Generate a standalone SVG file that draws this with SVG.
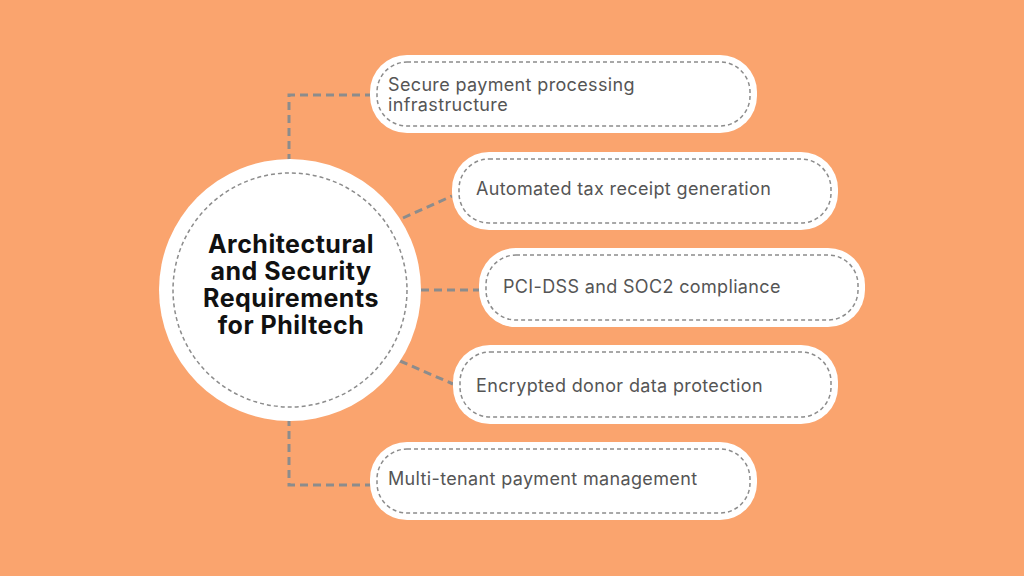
<svg xmlns="http://www.w3.org/2000/svg" width="1024" height="576" viewBox="0 0 1024 576">
<style>
.bg{fill:#FAA46E}
.conn{fill:none;stroke:#8C8C8C;stroke-width:3;stroke-dasharray:8 5}
.box{fill:#FFFFFF}
.inner{fill:none;stroke:#8C8C8C;stroke-width:1.5;stroke-dasharray:4 3}
.lbl{font-family:Inter,"Noto Sans",sans-serif;font-size:18px;letter-spacing:0.35px;fill:#555555}
.title{font-family:Inter,"Noto Sans",sans-serif;font-size:25px;font-weight:700;letter-spacing:0.5px;fill:#111111;text-anchor:middle}
</style>
<rect class="bg" x="0" y="0" width="1024" height="576"/>
<g id="connectors">
<polyline class="conn" points="289,162 289,95 370,95"/>
<line class="conn" x1="403" y1="218" x2="452" y2="196"/>
<line class="conn" x1="421" y1="290" x2="479" y2="290"/>
<line class="conn" x1="400" y1="361" x2="453" y2="384"/>
<polyline class="conn" points="289,418 289,485 370,485"/>
</g>
<g id="center">
<circle cx="290" cy="290" r="131" fill="#FFFFFF"/>
<circle cx="290" cy="290" r="117" class="inner"/>
<text class="title" x="291" y="253">Architectural</text>
<text class="title" x="291" y="280">and Security</text>
<text class="title" x="291" y="307">Requirements</text>
<text class="title" x="291" y="334">for Philtech</text>
</g>
<g id="node1">
<rect class="box" x="370" y="55" width="387" height="78" rx="37"/>
<rect class="inner" x="377" y="62" width="373" height="64" rx="30"/>
<text class="lbl" x="388" y="91">Secure payment processing</text>
<text class="lbl" x="388" y="111">infrastructure</text>
</g>
<g id="node2">
<rect class="box" x="452" y="152" width="386" height="78" rx="37"/>
<rect class="inner" x="459" y="159" width="372" height="64" rx="30"/>
<text class="lbl" x="476" y="195">Automated tax receipt generation</text>
</g>
<g id="node3">
<rect class="box" x="479" y="248" width="386" height="79" rx="37"/>
<rect class="inner" x="486" y="255" width="372" height="65" rx="30"/>
<text class="lbl" x="503" y="293">PCI-DSS and SOC2 compliance</text>
</g>
<g id="node4">
<rect class="box" x="453" y="345" width="385" height="79" rx="37"/>
<rect class="inner" x="460" y="352" width="371" height="65" rx="30"/>
<text class="lbl" x="476" y="392">Encrypted donor data protection</text>
</g>
<g id="node5">
<rect class="box" x="370" y="442" width="387" height="78" rx="37"/>
<rect class="inner" x="377" y="449" width="373" height="64" rx="30"/>
<text class="lbl" x="388" y="485">Multi-tenant payment management</text>
</g>
</svg>
